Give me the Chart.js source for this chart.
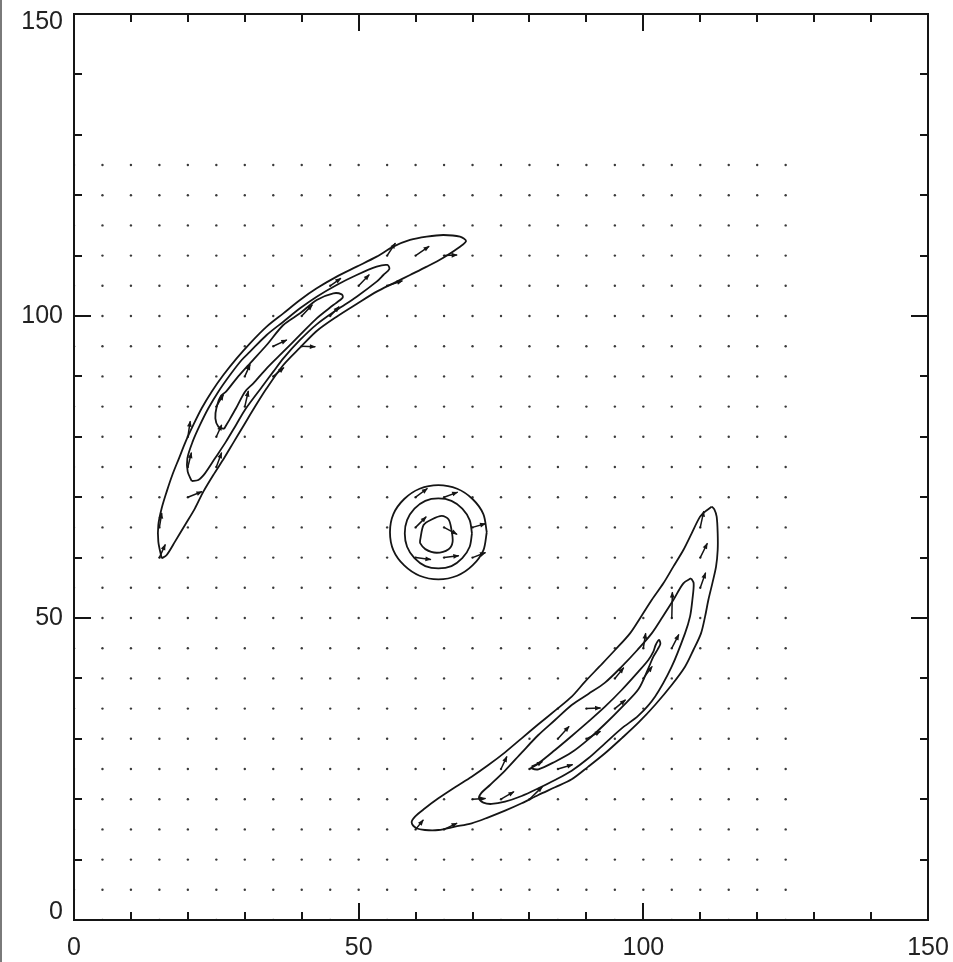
<!DOCTYPE html>
<html>
<head>
<meta charset="utf-8">
<script src="https://cdn.jsdelivr.net/npm/chart.js@4/dist/chart.umd.min.js"></script>
<style>
  html, body { margin: 0; padding: 0; background: #ffffff; }
  canvas { display: block; }
</style>
</head>
<body>
<canvas id="flow" width="953" height="962"></canvas>
<script>
// Sampling lattice of the velocity field
const gridX = [0, 5, 10, 15, 20, 25, 30, 35, 40, 45, 50, 55, 60, 65, 70, 75, 80, 85, 90, 95, 100, 105, 110, 115, 120, 125];
const gridY = [0, 5, 10, 15, 20, 25, 30, 35, 40, 45, 50, 55, 60, 65, 70, 75, 80, 85, 90, 95, 100, 105, 110, 115, 120, 125];

// Axis ticks
const majorTicks = [0, 50, 100, 150];
const minorTicks = [10, 20, 30, 40, 60, 70, 80, 90, 110, 120, 130, 140];

// Density contours: upper-left arm
const upperArmOuter = [
  [15.40, 59.88], [14.81, 62.64], [14.81, 65.40], [15.40, 68.16], [16.28, 70.92], [17.27, 73.68],
  [18.44, 76.44], [19.61, 79.20], [20.96, 81.96], [22.43, 84.72], [24.18, 87.47], [26.23, 90.23],
  [28.57, 92.99], [30.92, 95.48], [33.84, 98.24], [36.77, 100.44], [39.70, 102.65], [42.63, 104.58],
  [46.14, 106.52], [49.65, 108.17], [53.16, 109.83], [56.09, 111.48], [59.02, 112.59], [61.95, 113.14],
  [64.87, 113.41], [67.80, 113.14], [68.86, 112.42], [67.80, 111.48], [64.87, 109.66], [61.95, 108.17],
  [59.02, 106.79], [56.09, 105.41], [53.16, 104.03], [49.65, 101.99], [46.14, 99.89], [42.63, 97.52],
  [39.70, 94.76], [36.77, 91.89], [33.84, 88.03], [31.62, 84.72], [29.86, 81.96], [28.10, 79.20],
  [26.35, 76.44], [24.47, 73.68], [22.72, 70.92], [21.25, 68.16], [19.50, 65.40], [17.74, 62.64],
  [16.28, 60.43], [15.40, 59.88]
];
const upperArmMiddle = [
  [20.67, 72.68], [19.97, 74.23], [19.91, 76.44], [20.84, 79.20], [22.13, 81.96], [23.60, 84.72],
  [25.35, 87.47], [27.40, 90.23], [29.45, 92.72], [30.92, 94.10], [33.84, 96.86], [36.77, 99.06],
  [39.70, 101.27], [42.63, 103.20], [46.14, 105.14], [49.65, 106.79], [53.16, 108.17], [55.04, 108.45],
  [55.39, 107.78], [54.34, 106.79], [53.16, 105.69], [49.65, 103.20], [46.14, 101.00], [42.63, 98.62],
  [39.70, 96.03], [36.77, 92.99], [35.01, 90.79], [33.26, 88.58], [30.21, 84.72], [28.46, 81.96],
  [26.70, 79.20], [24.77, 76.44], [23.01, 73.95], [21.84, 72.85], [20.67, 72.68]
];
const upperArmInner = [
  [26.35, 81.29], [25.35, 81.68], [24.83, 83.06], [25.06, 84.99], [25.82, 86.81], [26.70, 87.47],
  [28.57, 89.68], [30.92, 92.17], [33.84, 95.20], [36.77, 98.51], [39.70, 100.44], [42.63, 102.65],
  [45.55, 103.76], [47.02, 103.59], [47.19, 103.04], [45.55, 101.82], [42.63, 99.62], [39.70, 96.86],
  [36.77, 94.10], [33.84, 91.34], [31.50, 88.85], [30.04, 87.47], [28.46, 84.72], [27.11, 82.51],
  [26.35, 81.29]
];

// Density contours: lower-right arm
const lowerArmOuter = [
  [112.01, 68.44], [110.84, 67.61], [109.96, 66.78], [108.49, 64.02], [107.03, 61.26], [105.27, 58.50],
  [103.52, 55.74], [101.47, 52.98], [99.59, 50.22], [97.66, 47.46], [95.03, 44.70], [92.27, 41.94],
  [89.76, 39.46], [87.42, 36.98], [84.49, 34.66], [81.56, 32.40], [78.63, 30.08], [75.71, 27.76],
  [72.78, 25.66], [69.85, 23.73], [66.92, 21.97], [64.00, 20.14], [61.65, 18.49], [59.90, 17.11],
  [59.31, 16.12], [60.19, 15.18], [61.65, 14.90], [64.00, 14.90], [66.92, 15.45], [69.85, 16.01],
  [72.78, 17.00], [75.71, 18.10], [78.63, 19.32], [81.56, 20.70], [84.49, 21.97], [87.42, 23.29],
  [90.34, 25.39], [93.27, 27.60], [96.20, 30.08], [99.13, 32.67], [102.05, 35.60], [104.98, 38.91],
  [107.32, 41.94], [108.79, 44.70], [110.13, 47.46], [110.84, 50.22], [111.42, 52.98], [112.12, 55.74],
  [112.77, 58.50], [113.06, 61.26], [113.06, 64.02], [112.88, 66.78], [112.47, 67.99], [112.01, 68.44]
];
const lowerArmMiddle = [
  [108.38, 56.57], [107.03, 55.74], [105.27, 52.98], [103.40, 50.22], [101.47, 47.46], [98.95, 44.70],
  [96.20, 41.94], [93.27, 39.30], [90.34, 37.42], [87.42, 35.60], [84.49, 33.11], [81.56, 30.63],
  [78.63, 27.71], [75.71, 24.73], [73.07, 22.35], [71.49, 20.97], [71.14, 20.14], [71.90, 19.43],
  [73.36, 19.21], [75.71, 19.59], [78.63, 20.53], [81.56, 21.80], [84.49, 23.18], [87.42, 24.73],
  [90.34, 26.77], [93.27, 29.25], [96.20, 31.73], [99.13, 33.83], [102.05, 36.98], [104.98, 41.94],
  [107.32, 47.46], [108.20, 50.22], [108.61, 52.98], [108.84, 55.74], [108.38, 56.57]
];
const lowerArmInner = [
  [80.39, 25.39], [81.56, 25.94], [84.49, 28.15], [87.42, 30.47], [90.34, 32.84], [93.27, 35.32],
  [96.20, 38.08], [99.13, 41.12], [100.88, 43.05], [101.76, 44.43], [102.17, 45.53], [102.76, 46.36],
  [102.99, 45.70], [102.52, 44.81], [101.76, 43.60], [100.88, 41.67], [99.13, 38.19], [96.20, 35.21],
  [93.27, 32.45], [90.34, 29.91], [87.42, 27.76], [84.49, 26.21], [81.56, 24.95], [80.39, 25.11],
  [80.39, 25.39]
];

// Density contours: central core
const coreOuter = [
  [72.5, 64.2], [71.9, 67.2], [70.0, 69.7], [67.3, 71.4], [64.0, 72.0], [60.7, 71.4], [58.0, 69.7],
  [56.1, 67.2], [55.5, 64.2], [56.1, 61.2], [58.0, 58.7], [60.7, 57.0], [64.0, 56.4], [67.3, 57.0],
  [70.0, 58.7], [71.9, 61.2], [72.5, 64.2]
];
const coreMiddle = [
  [69.9, 64.0], [69.5, 66.2], [68.2, 68.1], [66.3, 69.4], [64.0, 69.8], [61.7, 69.4], [59.8, 68.1],
  [58.5, 66.2], [58.1, 64.0], [58.5, 61.8], [59.8, 59.9], [61.7, 58.6], [64.0, 58.2], [66.3, 58.6],
  [68.2, 59.9], [69.5, 61.8], [69.9, 64.0]
];
const coreInner = [
  [60.8, 62.9], [61.4, 65.4], [62.8, 66.3], [64.6, 66.9], [65.8, 66.3], [66.3, 64.6], [66.5, 62.6],
  [65.8, 61.4], [63.7, 60.8], [61.7, 61.4], [60.8, 62.4], [60.8, 62.9]
];

// Velocity vectors [x, y, u, v] at lattice nodes with visible flow
const coreArrows = [
  [60, 70, 2.0, 1.4], [65, 70, 2.3, 0.8], [70, 65, 2.2, 0.6], [60, 65, 1.8, 1.7],
  [65, 65, 2.2, -1.1], [60, 60, 2.6, -0.3], [65, 60, 2.5, 0.3], [70, 60, 2.2, 0.8]
];
const upperArmArrows = [
  [55, 110, 1.4, 2.0], [60, 110, 2.3, 1.5], [65, 110, 2.2, 0.1], [45, 105, 1.8, 1.2],
  [50, 105, 1.8, 1.8], [55, 105, 2.6, 0.8], [40, 100, 1.8, 1.8], [45, 100, 1.5, 1.5],
  [35, 95, 2.3, 1.0], [40, 95, 2.3, -0.1], [30, 90, 0.9, 1.9], [35, 90, 1.8, 1.4],
  [25, 85, 1.2, 1.9], [30, 85, 0.6, 2.5], [20, 80, 0.4, 2.5], [25, 80, 0.9, 1.9],
  [20, 75, 0.6, 2.3], [25, 75, 0.9, 2.3], [20, 70, 2.4, 0.9], [15, 65, 0.4, 2.3],
  [15, 60, 1.0, 2.1]
];
const lowerArmArrows = [
  [110, 65, 0.6, 2.6], [110, 60, 1.2, 2.3], [110, 55, 0.9, 2.4], [105, 50, 0.1, 4.2],
  [105, 45, 1.2, 2.2], [100, 45, 0.4, 2.4], [100, 40, 1.5, 1.9], [95, 40, 1.5, 1.7],
  [95, 35, 1.8, 1.4], [90, 35, 2.4, 0.1], [85, 30, 1.9, 2.0], [90, 30, 2.4, 1.2],
  [80, 25, 2.2, 1.2], [85, 25, 2.5, 0.7], [75, 25, 1.0, 2.0], [70, 20, 2.2, 0.1],
  [75, 20, 2.2, 1.2], [80, 20, 2.2, 2.0], [60, 15, 1.3, 1.5], [65, 15, 2.2, 1.0]
];

const INK = '#151515';
const LABEL_FONT = { family: '"Liberation Sans", Arial, Helvetica, sans-serif', size: 25, lineHeight: 1 };

const toPoints = arr => arr.map(([x, y]) => ({ x, y }));

const latticePoints = [];
gridX.forEach(x => gridY.forEach(y => latticePoints.push({ x, y })));

const contourSet = [
  upperArmOuter, upperArmMiddle, upperArmInner,
  lowerArmOuter, lowerArmMiddle, lowerArmInner,
  coreOuter, coreMiddle, coreInner
];

const contourDatasets = contourSet.map(c => ({
  data: toPoints(c),
  showLine: true,
  pointRadius: 0,
  borderColor: INK,
  borderWidth: 1.8,
  tension: 0.3,
  fill: false
}));

// Draws the non-zero velocity vectors as arrows through the chart scales
const vectorArrows = {
  id: 'vectorArrows',
  afterDatasetsDraw(chart) {
    const { ctx, chartArea: a, scales: { x, y } } = chart;
    ctx.save();
    ctx.beginPath();
    ctx.rect(a.left, a.top, a.right - a.left, a.bottom - a.top);
    ctx.clip();
    ctx.strokeStyle = INK;
    ctx.fillStyle = INK;
    ctx.lineWidth = 1.5;
    ctx.lineCap = 'round';
    [...coreArrows, ...upperArmArrows, ...lowerArmArrows].forEach(([x0, y0, u, v]) => {
      const px0 = x.getPixelForValue(x0), py0 = y.getPixelForValue(y0);
      const px1 = x.getPixelForValue(x0 + u), py1 = y.getPixelForValue(y0 + v);
      const ang = Math.atan2(py1 - py0, px1 - px0);
      ctx.beginPath();
      ctx.moveTo(px0, py0);
      ctx.lineTo(px1, py1);
      ctx.stroke();
      const hl = 5, hw = 2.4;
      ctx.beginPath();
      ctx.moveTo(px1 + Math.cos(ang) * 1, py1 + Math.sin(ang) * 1);
      ctx.lineTo(px1 - Math.cos(ang) * hl - Math.sin(ang) * hw, py1 - Math.sin(ang) * hl + Math.cos(ang) * hw);
      ctx.lineTo(px1 - Math.cos(ang) * hl + Math.sin(ang) * hw, py1 - Math.sin(ang) * hl - Math.cos(ang) * hw);
      ctx.closePath();
      ctx.fill();
    });
    ctx.restore();
  }
};

// Box frame with inward ticks on all four sides, plus the page's left rule
const axisFrame = {
  id: 'axisFrame',
  afterDraw(chart) {
    const { ctx, chartArea: a, scales: { x, y } } = chart;
    ctx.save();
    ctx.strokeStyle = INK;
    ctx.lineWidth = 2;
    ctx.strokeRect(a.left, a.top, a.right - a.left, a.bottom - a.top);
    ctx.beginPath();
    const mark = (v, len) => {
      const px = Math.round(x.getPixelForValue(v));
      const py = Math.round(y.getPixelForValue(v));
      ctx.moveTo(px, a.bottom); ctx.lineTo(px, a.bottom - len);
      ctx.moveTo(px, a.top); ctx.lineTo(px, a.top + len);
      ctx.moveTo(a.left, py); ctx.lineTo(a.left + len, py);
      ctx.moveTo(a.right, py); ctx.lineTo(a.right - len, py);
    };
    majorTicks.forEach(v => mark(v, 17));
    minorTicks.forEach(v => mark(v, 8));
    ctx.stroke();
    ctx.fillStyle = '#7a7a7a';
    ctx.fillRect(0, 0, 2, chart.height);
    ctx.restore();
  }
};

// Keeps the end labels of the vertical axis inside the frame height
const edgeLabels = {
  id: 'edgeLabels',
  beforeDraw(chart) {
    const items = chart.scales.y.getLabelItems();
    items.forEach(it => {
      if (it._edgeShifted) return;
      if (it.label === '150') it.options.translation[1] += 8;
      if (it.label === '0') it.options.translation[1] -= 8;
      it._edgeShifted = true;
    });
  }
};

new Chart(document.getElementById('flow'), {
  type: 'scatter',
  data: {
    datasets: [
      ...contourDatasets,
      {
        data: latticePoints,
        showLine: false,
        pointRadius: 1.2,
        pointBorderWidth: 0,
        pointBackgroundColor: '#3a3a3a'
      }
    ]
  },
  options: {
    responsive: false,
    devicePixelRatio: 1,
    animation: false,
    events: [],
    layout: { padding: { left: 0, top: 14, right: 25, bottom: 0 } },
    plugins: { legend: { display: false }, tooltip: { enabled: false } },
    scales: {
      x: {
        type: 'linear',
        position: 'bottom',
        min: 0,
        max: 150,
        grid: { display: false, drawTicks: false },
        border: { display: false },
        ticks: { stepSize: 50, padding: 16, maxRotation: 0, color: '#222', font: LABEL_FONT },
        afterFit: s => { s.height = 42; s.paddingLeft = 0; s.paddingRight = 0; }
      },
      y: {
        type: 'linear',
        position: 'left',
        min: 0,
        max: 150,
        grid: { display: false, drawTicks: false },
        border: { display: false },
        ticks: { stepSize: 50, padding: 11, color: '#222', font: LABEL_FONT },
        afterFit: s => { s.width = 74; s.paddingTop = 0; s.paddingBottom = 0; }
      }
    }
  },
  plugins: [vectorArrows, axisFrame, edgeLabels]
});
</script>
</body>
</html>
